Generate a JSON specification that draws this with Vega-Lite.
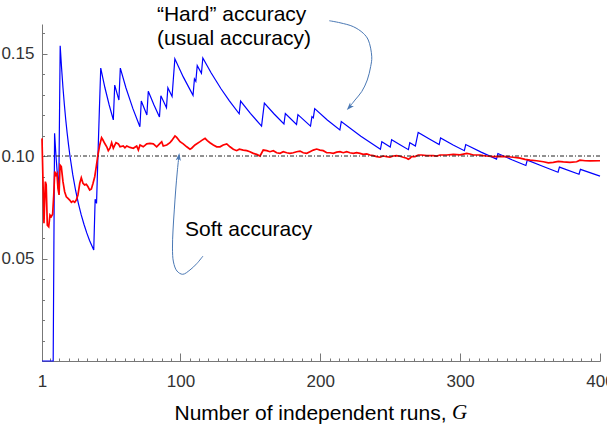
{
  "$schema": "https://vega.github.io/schema/vega-lite/v6.json",
  "width": 558,
  "height": 337,
  "autosize": {"type": "none"},
  "padding": {"left": 42, "top": 24, "right": 7, "bottom": 64},
  "background": "white",
  "config": {"view": {"stroke": null}, "axis": {"grid": false}},
  "datasets": {
    "blue": [
      {"x": 1, "v": 0}, {"x": 9, "v": 0},
      {"x": 10, "v": 0.1111}, {"x": 11, "v": 0.1}, {"x": 12, "v": 0.0909}, {"x": 13, "v": 0.0833},
      {"x": 14, "v": 0.1538}, {"x": 15, "v": 0.1429}, {"x": 16, "v": 0.1333}, {"x": 17, "v": 0.125}, {"x": 18, "v": 0.1176}, {"x": 19, "v": 0.1111}, {"x": 20, "v": 0.1053}, {"x": 21, "v": 0.1}, {"x": 23, "v": 0.0909}, {"x": 25, "v": 0.0833}, {"x": 27, "v": 0.0769}, {"x": 29, "v": 0.0714}, {"x": 31, "v": 0.0667}, {"x": 33, "v": 0.0625}, {"x": 35, "v": 0.0588}, {"x": 38, "v": 0.0541},
      {"x": 39, "v": 0.0789}, {"x": 40, "v": 0.0769}, {"x": 41, "v": 0.1}, {"x": 42, "v": 0.122},
      {"x": 43, "v": 0.1429}, {"x": 46, "v": 0.1333}, {"x": 49, "v": 0.125}, {"x": 52, "v": 0.1176},
      {"x": 53, "v": 0.1346}, {"x": 56, "v": 0.1273},
      {"x": 57, "v": 0.1429}, {"x": 61, "v": 0.1333}, {"x": 66, "v": 0.1231}, {"x": 71, "v": 0.1143},
      {"x": 72, "v": 0.1268}, {"x": 76, "v": 0.12},
      {"x": 77, "v": 0.1316}, {"x": 81, "v": 0.125}, {"x": 85, "v": 0.119},
      {"x": 86, "v": 0.1294}, {"x": 90, "v": 0.1236},
      {"x": 91, "v": 0.1333}, {"x": 94, "v": 0.129},
      {"x": 95, "v": 0.1383},
      {"x": 96, "v": 0.1474}, {"x": 102, "v": 0.1386}, {"x": 109, "v": 0.1296},
      {"x": 110, "v": 0.1376}, {"x": 111, "v": 0.1364},
      {"x": 112, "v": 0.1441}, {"x": 115, "v": 0.1404},
      {"x": 116, "v": 0.1478}, {"x": 122, "v": 0.1405}, {"x": 129, "v": 0.1328}, {"x": 135, "v": 0.1269}, {"x": 142, "v": 0.1206},
      {"x": 143, "v": 0.1268}, {"x": 150, "v": 0.1208}, {"x": 158, "v": 0.1146},
      {"x": 159, "v": 0.1203},
      {"x": 160, "v": 0.1258}, {"x": 167, "v": 0.1205}, {"x": 174, "v": 0.1156},
      {"x": 175, "v": 0.1207}, {"x": 183, "v": 0.1154},
      {"x": 184, "v": 0.1202}, {"x": 193, "v": 0.1146},
      {"x": 194, "v": 0.1192}, {"x": 195, "v": 0.1186},
      {"x": 196, "v": 0.1231}, {"x": 205, "v": 0.1176}, {"x": 214, "v": 0.1127},
      {"x": 215, "v": 0.1168}, {"x": 229, "v": 0.1096}, {"x": 243, "v": 0.1033},
      {"x": 244, "v": 0.107}, {"x": 250, "v": 0.1044},
      {"x": 251, "v": 0.108}, {"x": 257, "v": 0.1055}, {"x": 263, "v": 0.1031},
      {"x": 264, "v": 0.1065}, {"x": 268, "v": 0.1049},
      {"x": 269, "v": 0.1082},
      {"x": 270, "v": 0.1115}, {"x": 278, "v": 0.1083}, {"x": 285, "v": 0.1056},
      {"x": 286, "v": 0.1088}, {"x": 295, "v": 0.1054}, {"x": 303, "v": 0.1026},
      {"x": 304, "v": 0.1056}, {"x": 315, "v": 0.1019}, {"x": 326, "v": 0.0985},
      {"x": 327, "v": 0.1012}, {"x": 337, "v": 0.0982}, {"x": 347, "v": 0.0954},
      {"x": 348, "v": 0.098}, {"x": 359, "v": 0.095}, {"x": 370, "v": 0.0921},
      {"x": 371, "v": 0.0946}, {"x": 385, "v": 0.0911},
      {"x": 386, "v": 0.0935}, {"x": 400, "v": 0.0902}
    ],
    "red": [
      {"x": 1, "v": 0.1086}, {"x": 2.4, "v": 0.0672}, {"x": 3.4, "v": 0.0875}, {"x": 4.0, "v": 0.086}, {"x": 4.8, "v": 0.0663}, {"x": 5.8, "v": 0.0655}, {"x": 6.7, "v": 0.0712}, {"x": 7.6, "v": 0.0704}, {"x": 8.6, "v": 0.0716}, {"x": 9.4, "v": 0.081}, {"x": 10.1, "v": 0.0924}, {"x": 11.0, "v": 0.0907}, {"x": 11.7, "v": 0.0915}, {"x": 12.4, "v": 0.0842}, {"x": 13.2, "v": 0.081}, {"x": 13.9, "v": 0.0956}, {"x": 14.8, "v": 0.0948}, {"x": 16.0, "v": 0.0875}, {"x": 17.2, "v": 0.0826}, {"x": 18.4, "v": 0.0801}, {"x": 19.6, "v": 0.0793}, {"x": 20.8, "v": 0.0785}, {"x": 22.0, "v": 0.0774}, {"x": 23.2, "v": 0.078}, {"x": 24.4, "v": 0.0774}, {"x": 25.5, "v": 0.0785}, {"x": 26.7, "v": 0.081}, {"x": 28.0, "v": 0.0867}, {"x": 29.1, "v": 0.0894}, {"x": 30.3, "v": 0.0867}, {"x": 31.5, "v": 0.0859}, {"x": 32.7, "v": 0.0862}, {"x": 33.9, "v": 0.085}, {"x": 35.1, "v": 0.0834}, {"x": 36.3, "v": 0.0839}, {"x": 37.5, "v": 0.0867}, {"x": 38.7, "v": 0.0899}, {"x": 39.8, "v": 0.0948}, {"x": 41.0, "v": 0.1005}, {"x": 42.3, "v": 0.1054}, {"x": 43.6, "v": 0.1089}, {"x": 44.6, "v": 0.1078}, {"x": 45.8, "v": 0.1062}, {"x": 47.3, "v": 0.1045}, {"x": 48.4, "v": 0.1026}, {"x": 49.6, "v": 0.1038}, {"x": 50.8, "v": 0.1065}, {"x": 52.0, "v": 0.1038}, {"x": 53.9, "v": 0.1065}, {"x": 55.6, "v": 0.1059}, {"x": 56.8, "v": 0.1045}, {"x": 59.1, "v": 0.1049}, {"x": 60.3, "v": 0.104}, {"x": 61.6, "v": 0.1049}, {"x": 63.9, "v": 0.1042}, {"x": 66.3, "v": 0.1038}, {"x": 68.7, "v": 0.1049}, {"x": 69.9, "v": 0.1029}, {"x": 71.1, "v": 0.1054}, {"x": 73.4, "v": 0.1045}, {"x": 75.9, "v": 0.1059}, {"x": 78.2, "v": 0.1062}, {"x": 80.6, "v": 0.1059}, {"x": 83.0, "v": 0.1045}, {"x": 85.4, "v": 0.1062}, {"x": 86.6, "v": 0.107}, {"x": 87.7, "v": 0.1049}, {"x": 90.2, "v": 0.1054}, {"x": 92.5, "v": 0.1065}, {"x": 93.7, "v": 0.1075}, {"x": 96.1, "v": 0.1098}, {"x": 97.3, "v": 0.1091}, {"x": 98.5, "v": 0.1081}, {"x": 99.7, "v": 0.107}, {"x": 102.0, "v": 0.1059}, {"x": 104.5, "v": 0.1045}, {"x": 106.8, "v": 0.1033}, {"x": 108.0, "v": 0.1038}, {"x": 110.4, "v": 0.1054}, {"x": 114.0, "v": 0.107}, {"x": 116.3, "v": 0.1081}, {"x": 117.6, "v": 0.1086}, {"x": 119.2, "v": 0.1075}, {"x": 121.1, "v": 0.1065}, {"x": 123.5, "v": 0.1054}, {"x": 125.9, "v": 0.1045}, {"x": 128.3, "v": 0.1045}, {"x": 130.6, "v": 0.1054}, {"x": 133.1, "v": 0.1059}, {"x": 135.4, "v": 0.1045}, {"x": 137.8, "v": 0.1033}, {"x": 140.2, "v": 0.1026}, {"x": 142.1, "v": 0.1033}, {"x": 144.9, "v": 0.1029}, {"x": 147.4, "v": 0.1026}, {"x": 149.7, "v": 0.1021}, {"x": 152.1, "v": 0.1013}, {"x": 154.5, "v": 0.1008}, {"x": 156.9, "v": 0.1}, {"x": 159.2, "v": 0.1029}, {"x": 161.7, "v": 0.1026}, {"x": 164.0, "v": 0.1021}, {"x": 166.4, "v": 0.1026}, {"x": 168.8, "v": 0.1016}, {"x": 171.2, "v": 0.1013}, {"x": 173.5, "v": 0.1021}, {"x": 176.0, "v": 0.1016}, {"x": 178.3, "v": 0.1013}, {"x": 180.7, "v": 0.1016}, {"x": 183.1, "v": 0.1021}, {"x": 185.5, "v": 0.1024}, {"x": 187.8, "v": 0.1016}, {"x": 190.3, "v": 0.1013}, {"x": 192.6, "v": 0.1021}, {"x": 195.0, "v": 0.1029}, {"x": 197.4, "v": 0.1034}, {"x": 199.8, "v": 0.1029}, {"x": 202.1, "v": 0.1026}, {"x": 204.6, "v": 0.1016}, {"x": 206.9, "v": 0.1016}, {"x": 209.3, "v": 0.1013}, {"x": 211.7, "v": 0.1019}, {"x": 214.1, "v": 0.1021}, {"x": 216.4, "v": 0.1016}, {"x": 218.9, "v": 0.1021}, {"x": 221.2, "v": 0.1016}, {"x": 223.6, "v": 0.1013}, {"x": 226.0, "v": 0.1016}, {"x": 228.4, "v": 0.1013}, {"x": 230.7, "v": 0.1008}, {"x": 233.2, "v": 0.101}, {"x": 235.5, "v": 0.1005}, {"x": 237.9, "v": 0.1002}, {"x": 240.3, "v": 0.0997}, {"x": 242.7, "v": 0.0994}, {"x": 245.0, "v": 0.1}, {"x": 247.5, "v": 0.0997}, {"x": 249.8, "v": 0.0994}, {"x": 252.2, "v": 0.1}, {"x": 254.6, "v": 0.1002}, {"x": 257.0, "v": 0.0999}, {"x": 259.3, "v": 0.0994}, {"x": 261.8, "v": 0.0989}, {"x": 262.9, "v": 0.0984}, {"x": 264.1, "v": 0.0989}, {"x": 265.3, "v": 0.0997}, {"x": 267.7, "v": 0.0997}, {"x": 270.1, "v": 0.1005}, {"x": 272.5, "v": 0.1005}, {"x": 276.1, "v": 0.1002}, {"x": 280.8, "v": 0.1002}, {"x": 283.2, "v": 0.1}, {"x": 285.6, "v": 0.1005}, {"x": 290.4, "v": 0.1005}, {"x": 295.1, "v": 0.1008}, {"x": 299.9, "v": 0.1006}, {"x": 304.7, "v": 0.1013}, {"x": 307.0, "v": 0.101}, {"x": 309.4, "v": 0.1005}, {"x": 314.2, "v": 0.1005}, {"x": 316.6, "v": 0.1002}, {"x": 319.0, "v": 0.1}, {"x": 323.7, "v": 0.0997}, {"x": 328.5, "v": 0.0998}, {"x": 333.3, "v": 0.0997}, {"x": 338.0, "v": 0.0994}, {"x": 342.8, "v": 0.099}, {"x": 346.4, "v": 0.0984}, {"x": 350.0, "v": 0.098}, {"x": 354.7, "v": 0.0977}, {"x": 359.5, "v": 0.0972}, {"x": 363.1, "v": 0.0967}, {"x": 366.6, "v": 0.0969}, {"x": 370.2, "v": 0.0974}, {"x": 373.8, "v": 0.0971}, {"x": 378.5, "v": 0.0969}, {"x": 383.3, "v": 0.0972}, {"x": 385.7, "v": 0.098}, {"x": 389.3, "v": 0.0977}, {"x": 392.8, "v": 0.0976}, {"x": 400, "v": 0.0977}
    ],
    "arrows": [
      {"a": "hard", "i": 0, "x": 206.4, "v": 0.166}, {"a": "hard", "i": 1, "x": 214.1, "v": 0.165}, {"a": "hard", "i": 2, "x": 223.6, "v": 0.1631}, {"a": "hard", "i": 3, "x": 230.7, "v": 0.1599}, {"a": "hard", "i": 4, "x": 234.3, "v": 0.1566}, {"a": "hard", "i": 5, "x": 236.8, "v": 0.1484}, {"a": "hard", "i": 6, "x": 236.0, "v": 0.1436}, {"a": "hard", "i": 7, "x": 233.6, "v": 0.1371}, {"a": "hard", "i": 8, "x": 229.6, "v": 0.1314}, {"a": "hard", "i": 9, "x": 224.8, "v": 0.1273}, {"a": "hard", "i": 10, "x": 220.9, "v": 0.1239},
      {"a": "soft", "i": 0, "x": 116.1, "v": 0.0512}, {"a": "soft", "i": 1, "x": 111.8, "v": 0.0476}, {"a": "soft", "i": 2, "x": 106.8, "v": 0.0444}, {"a": "soft", "i": 3, "x": 101.6, "v": 0.0423}, {"a": "soft", "i": 4, "x": 97.5, "v": 0.0439}, {"a": "soft", "i": 5, "x": 95.0, "v": 0.0483}, {"a": "soft", "i": 6, "x": 94.3, "v": 0.0551}, {"a": "soft", "i": 7, "x": 94.7, "v": 0.0639}, {"a": "soft", "i": 8, "x": 95.6, "v": 0.0737}, {"a": "soft", "i": 9, "x": 96.6, "v": 0.0834}, {"a": "soft", "i": 10, "x": 97.7, "v": 0.0922}, {"a": "soft", "i": 11, "x": 98.8, "v": 0.0995}
    ],
    "heads": [
      {"x": 220.9, "v": 0.1239, "ang": 223},
      {"x": 98.8, "v": 0.0995, "ang": 7.5}
    ],
    "notes": [
      {"x": 83.2, "v": 0.1659, "t": "“Hard” accuracy"},
      {"x": 83.2, "v": 0.1541, "t": "(usual accuracy)"},
      {"x": 103.3, "v": 0.061, "t": "Soft accuracy"}
    ],
    "gsym": [{"x": 294.1, "v": -0.0283, "t": "G"}]
  },
  "resolve": {"axis": {"x": "independent", "y": "independent"}},
  "layer": [
    {
      "data": {"name": "blue"},
      "mark": {"type": "line", "color": "#0000ff", "strokeWidth": 1.2},
      "encoding": {
        "x": {"field": "x", "type": "quantitative",
          "scale": {"domain": [1, 400], "nice": false, "zero": false},
          "axis": {"orient": "bottom", "values": [1, 100, 200, 300, 400], "tickSize": -8, "tickColor": "#777", "domainColor": "#777", "labelFont": "Liberation Sans Narrow, Liberation Sans", "labelFontSize": 17, "labelColor": "#333", "labelPadding": 20, "labelFlush": false, "labelOverlap": false, "title": "Number of independent runs,", "titleFont": "Liberation Sans", "titleFontSize": 21, "titleFontWeight": "normal", "titleColor": "#000", "titleAlign": "left", "titleX": 132, "titleY": 58, "titleBaseline": "alphabetic"}},
        "y": {"field": "v", "type": "quantitative",
          "scale": {"domain": [0, 0.1644], "nice": false, "zero": false},
          "axis": {"orient": "left", "values": [0.05, 0.1, 0.15], "format": ".2f", "tickSize": -5, "tickColor": "#777", "domainColor": "#777", "labelFont": "Liberation Sans Narrow, Liberation Sans", "labelFontSize": 17, "labelColor": "#333", "labelPadding": 13, "title": null}}
      }
    },
    {
      "data": {"name": "red"},
      "mark": {"type": "line", "color": "#ff0000", "strokeWidth": 1.7},
      "encoding": {
        "x": {"field": "x", "type": "quantitative",
          "scale": {"domain": [1, 400], "nice": false, "zero": false},
          "axis": {"orient": "bottom", "values": [6.667, 13.333, 20, 26.667, 33.333, 40, 46.667, 53.333, 60, 66.667, 73.333, 80, 86.667, 93.333, 106.667, 113.333, 120, 126.667, 133.333, 140, 146.667, 153.333, 160, 166.667, 173.333, 180, 186.667, 193.333, 206.667, 213.333, 220, 226.667, 233.333, 240, 246.667, 253.333, 260, 266.667, 273.333, 280, 286.667, 293.333, 306.667, 313.333, 320, 326.667, 333.333, 340, 346.667, 353.333, 360, 366.667, 373.333, 380, 386.667, 393.333], "tickSize": -3, "tickColor": "#777", "domain": false, "labels": false, "title": null}},
        "y": {"field": "v", "type": "quantitative",
          "scale": {"domain": [0, 0.1644], "nice": false, "zero": false},
          "axis": {"orient": "left", "values": [0.01, 0.02, 0.03, 0.04, 0.06, 0.07, 0.08, 0.09, 0.11, 0.12, 0.13, 0.14, 0.16], "tickSize": -2.5, "tickColor": "#777", "domain": false, "labels": false, "title": null}}
      }
    },
    {
      "data": {"values": [{}]},
      "mark": {"type": "rule", "color": "#222", "strokeWidth": 1, "strokeDash": [4, 2, 1, 2]},
      "encoding": {
        "y": {"datum": 0.1, "type": "quantitative", "scale": {"domain": [0, 0.1644], "nice": false, "zero": false}, "axis": null}
      }
    },
    {
      "data": {"name": "arrows"},
      "mark": {"type": "line", "color": "#4a78b4", "strokeWidth": 1, "interpolate": "catmull-rom"},
      "encoding": {
        "x": {"field": "x", "type": "quantitative", "scale": {"domain": [1, 400], "nice": false, "zero": false}, "axis": null},
        "y": {"field": "v", "type": "quantitative", "scale": {"domain": [0, 0.1644], "nice": false, "zero": false}, "axis": null},
        "detail": {"field": "a"},
        "order": {"field": "i", "type": "quantitative"}
      }
    },
    {
      "data": {"name": "heads"},
      "mark": {"type": "point", "shape": "M0,-1L0.65,0.9L0,0.45L-0.65,0.9Z", "filled": true, "color": "#4a78b4", "size": 64, "opacity": 1},
      "encoding": {
        "x": {"field": "x", "type": "quantitative", "scale": {"domain": [1, 400], "nice": false, "zero": false}, "axis": null},
        "y": {"field": "v", "type": "quantitative", "scale": {"domain": [0, 0.1644], "nice": false, "zero": false}, "axis": null},
        "angle": {"field": "ang", "type": "quantitative", "scale": null}
      }
    },
    {
      "data": {"name": "notes"},
      "mark": {"type": "text", "align": "left", "baseline": "alphabetic", "font": "Liberation Sans", "fontSize": 21, "color": "#000"},
      "encoding": {
        "x": {"field": "x", "type": "quantitative", "scale": {"domain": [1, 400], "nice": false, "zero": false}, "axis": null},
        "y": {"field": "v", "type": "quantitative", "scale": {"domain": [0, 0.1644], "nice": false, "zero": false}, "axis": null},
        "text": {"field": "t"}
      }
    },
    {
      "data": {"name": "gsym"},
      "mark": {"type": "text", "align": "left", "baseline": "alphabetic", "font": "Liberation Serif", "fontStyle": "italic", "fontSize": 21, "color": "#000"},
      "encoding": {
        "x": {"field": "x", "type": "quantitative", "scale": {"domain": [1, 400], "nice": false, "zero": false}, "axis": null},
        "y": {"field": "v", "type": "quantitative", "scale": {"domain": [0, 0.1644], "nice": false, "zero": false}, "axis": null},
        "text": {"field": "t"}
      }
    }
  ]
}
